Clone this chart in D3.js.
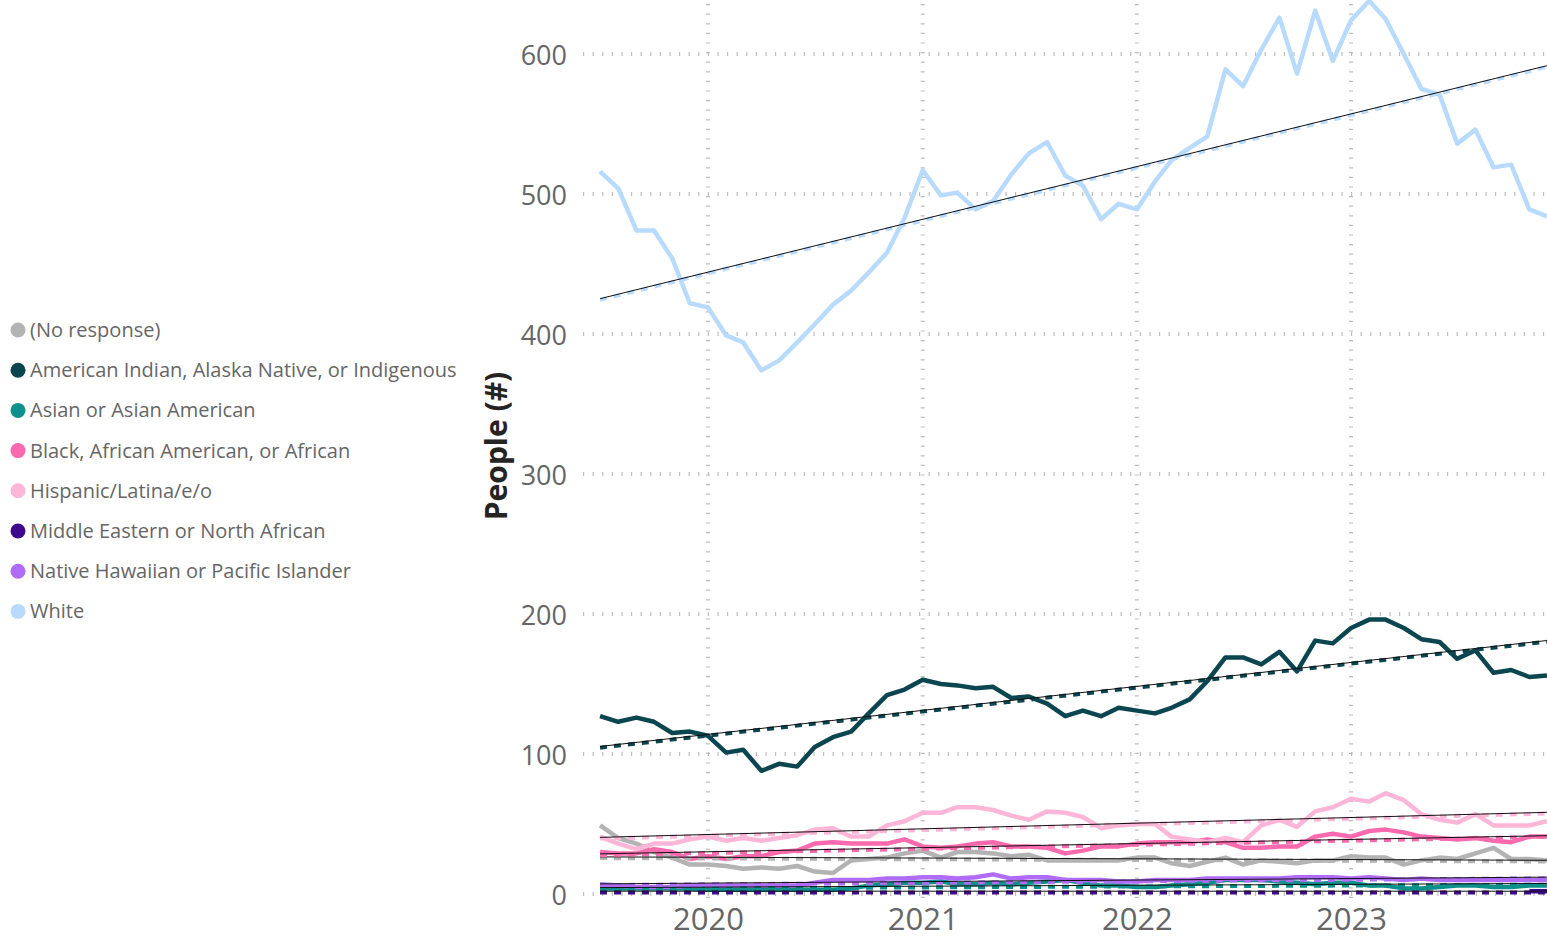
<!DOCTYPE html>
<html>
<head>
<meta charset="utf-8">
<script src="https://cdn.jsdelivr.net/npm/d3@7"></script>
<style>
  html, body { margin: 0; padding: 0; background: #ffffff; overflow: hidden; }
  svg { display: block; }
  text { font-family: "Segoe UI", "Open Sans", "Noto Sans", sans-serif; }
</style>
</head>
<body>
<svg id="chart" width="1547" height="940"></svg>
<script>
// Monthly counts, July 2019 through December 2023
const startMonth = new Date(2019, 6, 1);
const monthCount = 54;

const seriesNames = [
  "(No response)",
  "American Indian, Alaska Native, or Indigenous",
  "Asian or Asian American",
  "Black, African American, or African",
  "Hispanic/Latina/e/o",
  "Middle Eastern or North African",
  "Native Hawaiian or Pacific Islander",
  "White"
];

const seriesColors = [
  "#b3b3b3", "#0b4650", "#0e918c", "#fb6aaf",
  "#fdb6d8", "#3d0a8c", "#b06cf7", "#b8dbfd"
];

const noResponse = [49,40,36,30,26,21,21,20,18,19,18,20,16,15,
  24,25,26,29,31,26,30,30,29,27,28,24,24,
  24,24,24,26,26,22,20,23,26,21,24,23,22,24,
  24,27,26,26,21,24,26,25,29,33,25,25,24];

const americanIndian = [127,123,126,123,115,116,113,101,103,88,93,91,105,112,
  116,129,142,146,153,150,149,147,148,140,141,136,127,131,
  127,133,131,129,133,139,152,169,169,164,173,159,181,179,
  190,196,196,190,182,180,168,174,158,160,155,156];

const asian = [4,4,4,4,4,4,3,3,3,3,3,3,3,3,
  4,6,7,8,8,9,7,7,8,7,8,9,10,
  8,6,6,5,5,6,7,8,10,10,10,9,8,7,
  8,8,6,6,4,4,5,6,6,5,5,6,6];

const black = [30,29,29,32,30,25,27,25,27,27,30,31,36,37,
  36,36,36,39,34,33,34,36,37,34,34,33,29,
  31,34,34,36,37,37,37,39,37,33,33,34,34,41,
  43,41,45,46,44,41,40,39,40,38,37,41,41];

const hispanic = [41,36,32,36,36,39,41,38,40,38,40,42,46,47,
  41,41,49,52,58,58,62,62,60,56,53,59,58,
  55,47,49,50,50,41,39,37,40,37,49,53,48,59,
  62,68,66,72,67,57,53,51,57,49,49,49,52];

const middleEastern = [null,null,null,null,null,null,null,null,null,null,null,null,null,null,
  null,null,null,null,null,null,null,null,null,null,null,null,null,
  null,null,null,null,null,null,null,null,null,null,null,null,null,null,
  null,null,null,null,null,null,null,null,null,null,null,2,2];

const nativeHawaiian = [7,6,5,5,5,6,6,6,6,6,6,6,8,10,
  10,10,11,11,12,12,11,12,14,11,12,12,10,
  10,10,9,9,10,10,10,11,11,11,11,11,12,12,
  12,11,12,11,10,11,10,10,10,10,10,10,10];

const white = [516,504,474,474,454,422,419,399,394,374,381,394,407,421,431,444,458,483,
  517,499,501,489,495,514,529,537,513,506,482,493,489,509,524,533,541,589,577,603,
  626,586,631,595,624,638,625,600,575,571,536,546,519,521,489,484];

const seriesValues = [noResponse, americanIndian, asian, black, hispanic,
  middleEastern, nativeHawaiian, white];

const yTicks = [0, 100, 200, 300, 400, 500, 600];
const yearTicks = [2020, 2021, 2022, 2023];
const yTitle = "People (#)";

// ---------------------------------------------------------------------------
const months = d3.range(monthCount).map(i => d3.timeMonth.offset(startMonth, i));

const svg = d3.select("#chart");
const W = 1547, H = 940;
const plot = { left: 583, top: 0, bottom: 894 };

const x = d3.scaleTime()
  .domain([new Date(2020, 0, 1), new Date(2023, 0, 1)])
  .range([708, 1351]);
const y = d3.scaleLinear().domain([0, 600]).range([plot.bottom, 54]);

// Dotted gridlines
const grid = svg.append("g");
grid.selectAll("line.h").data(yTicks).join("line")
  .attr("x1", plot.left).attr("x2", W)
  .attr("y1", d => y(d)).attr("y2", d => y(d))
  .attr("stroke", "#bdbdbd").attr("stroke-width", 4)
  .attr("stroke-dasharray", "1.2,8.4");
grid.selectAll("line.v").data(yearTicks).join("line")
  .attr("x1", d => x(new Date(d, 0, 1))).attr("x2", d => x(new Date(d, 0, 1)))
  .attr("y1", 4).attr("y2", 902)
  .attr("stroke", "#bdbdbd").attr("stroke-width", 4)
  .attr("stroke-dasharray", "1.2,8.4");

// Axis labels
const yAxis = d3.axisLeft(y).tickValues(yTicks).tickSize(0).tickPadding(0);
const gy = svg.append("g").attr("transform", "translate(567,2)").call(yAxis);
gy.select(".domain").remove();
gy.selectAll("text").attr("font-size", 27).attr("fill", "#666666")
  .attr("font-family", "'Segoe UI','Open Sans',sans-serif");

const xAxis = d3.axisBottom(x)
  .tickValues(yearTicks.map(yr => new Date(yr, 0, 1)))
  .tickFormat(d3.timeFormat("%Y")).tickSize(0).tickPadding(0);
const gx = svg.append("g").attr("transform", "translate(0,908)").call(xAxis);
gx.select(".domain").remove();
gx.selectAll("text").attr("font-size", 31).attr("fill", "#666666")
  .attr("font-family", "'Segoe UI','Open Sans',sans-serif");

svg.append("text")
  .attr("transform", "translate(507,446) rotate(-90)")
  .attr("text-anchor", "middle")
  .attr("font-size", 30).attr("font-weight", "bold").attr("fill", "#252423")
  .text(yTitle);

// Series lines
const lineGen = d3.line()
  .defined(d => d.v !== null)
  .x(d => x(d.date)).y(d => y(d.v));

const seriesData = seriesNames.map((name, k) => ({
  name, color: seriesColors[k],
  points: months.map((date, i) => ({ date, i, v: seriesValues[k][i] }))
}));

svg.append("clipPath").attr("id", "plotclip")
  .append("rect").attr("x", plot.left).attr("y", 0)
  .attr("width", W - plot.left).attr("height", plot.bottom + 2);

const linesG = svg.append("g").attr("clip-path", "url(#plotclip)");
linesG.selectAll("path.series").data(seriesData).join("path")
  .attr("class", "series")
  .attr("d", d => lineGen(d.points))
  .attr("fill", "none").attr("stroke", d => d.color)
  .attr("stroke-width", 4.5).attr("stroke-linejoin", "round");

// Linear trend for each series over the months it has values
function trend(points) {
  const pts = points.filter(p => p.v !== null);
  const mx = d3.mean(pts, p => p.i), my = d3.mean(pts, p => p.v);
  const sxx = d3.sum(pts, p => (p.i - mx) ** 2);
  const slope = sxx > 0 ? d3.sum(pts, p => (p.i - mx) * (p.v - my)) / sxx : 0;
  const f = i => my + slope * (i - mx);
  return [
    { date: months[0], v: f(0) },
    { date: months[monthCount - 1], v: f(monthCount - 1) }
  ];
}
const trendLine = d3.line().x(d => x(d.date)).y(d => y(d.v));
const trendsG = svg.append("g").attr("clip-path", "url(#plotclip)");
seriesData.forEach(s => {
  const t = trend(s.points);
  trendsG.append("path").attr("d", trendLine(t))
    .attr("fill", "none").attr("stroke", s.color)
    .attr("stroke-width", 4).attr("stroke-dasharray", "7,7")
    .attr("transform", "translate(0,1.2)");
  trendsG.append("path").attr("d", trendLine(t))
    .attr("fill", "none").attr("stroke", "#111111")
    .attr("stroke-width", 1);
});

// Legend
const legend = svg.append("g");
const rows = legend.selectAll("g").data(seriesData).join("g")
  .attr("transform", (d, k) => `translate(18,${330 + k * 40.2})`);
rows.append("circle").attr("r", 7.5).attr("fill", d => d.color);
rows.append("text").attr("x", 12).attr("dy", "0.35em")
  .attr("font-size", 20).attr("fill", "#666666")
  .text(d => d.name);
</script>
</body>
</html>
